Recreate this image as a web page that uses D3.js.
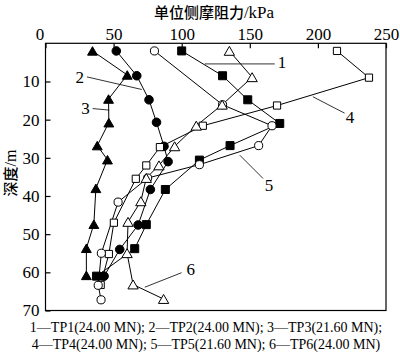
<!DOCTYPE html>
<html>
<head>
<meta charset="utf-8">
<script src="https://cdn.jsdelivr.net/npm/d3@7/dist/d3.min.js"></script>
<style>
body{margin:0;background:#fff}
svg{display:block}
</style>
</head>
<body>
<div id="chart"></div>
<script>
// side friction (kPa) against depth (m), six test piles
var tp1Friction = [100, 130, 148.5, 172, 135.5, 113, 88, 74, 65.5, 37.5];
var tp1Depth    = [2, 8.5, 14.8, 21, 26.8, 30.6, 38.3, 47.5, 53.8, 61];
var tp2Friction = [52, 67, 76, 81.5, 87, 90, 77, 68, 54.5, 43];
var tp2Depth    = [2, 8.5, 14.8, 20.7, 27, 31, 38.3, 47.6, 54, 61];
var tp3Friction = [34.5, 60, 46.3, 46.5, 38, 45.5, 37, 35.5, 30, 30];
var tp3Depth    = [2, 8.3, 14.6, 20.8, 26.8, 30.5, 38, 47.4, 53.7, 60.8];
var tp4Friction = [214, 237.5, 170, 115.5, 84, 74, 66.3, 50.2, 46.5, 40.5];
var tp4Depth    = [2, 9, 16.3, 21.6, 27.2, 32, 35.5, 47, 55.2, 63.3];
var tp5Friction = [80, 130, 166.3, 156.5, 113, 75, 53.3, 41, 38.7, 40.8];
var tp5Depth    = [2, 16.1, 21.6, 26.8, 31.8, 35.3, 41.6, 55, 63.4, 67.2];
var tp6Friction = [135, 151.7, 129.7, 110.7, 94.8, 83.3, 74, 70, 60.6, 59.9, 64.3, 86.7];
var tp6Depth    = [2, 8.9, 16.1, 21.6, 27, 32, 35.3, 41.4, 46.8, 55, 63.2, 67];

var seriesNames = ['TP1', 'TP2', 'TP3', 'TP4', 'TP5', 'TP6'];
var xTicks = [0, 50, 100, 150, 200, 250];
var yTicks = [10, 20, 30, 40, 50, 60, 70];
var legendLines = ['1\u2014TP1(24.00 MN); 2\u2014TP2(24.00 MN); 3\u2014TP3(21.60 MN);',
                   '4\u2014TP4(24.00 MN); 5\u2014TP5(21.60 MN); 6\u2014TP6(24.00 MN)'];

// curve labels: leader from [x1,d1] to [x2,d2], number placed at [tx,td]
var labelText  = ['1', '2', '3', '4', '5', '6'];
var leaderFrom = [[116.9, 5.4], [70.7, 12.1], [46.8, 17.5], [196.3, 14], [142.6, 29.3], [72.9, 63.9]];
var leaderTo   = [[168.3, 5.4], [30.4, 8.8], [34.6, 17.1], [219.6, 18.3], [159.7, 35.4], [99.9, 60.1]];
var labelAt    = [[170.5, 6.5], [28.2, 10.4], [32.5, 18.5], [220.5, 21], [161, 38.8], [103.5, 60.8]];
var labelAnchor = ['start', 'end', 'end', 'start', 'start', 'start'];

var W = 400, H = 363;
var svg = d3.select('#chart').append('svg').attr('width', W).attr('height', H);

var x = d3.scaleLinear().domain([0, 250]).range([45.5, 386]);
var y = d3.scaleLinear().domain([0, 70]).range([43.3, 310.5]);

var serif = '"Liberation Serif", "Times New Roman", serif';
var cjk = '"Noto Sans CJK SC", sans-serif';

// frame
svg.append('rect').attr('x', x(0)).attr('y', y(0)).attr('width', x(250) - x(0)).attr('height', y(70) - y(0))
  .attr('fill', 'none').attr('stroke', '#000').attr('stroke-width', 1.2);

var gx = svg.append('g').attr('transform', 'translate(0,' + y(0) + ')')
  .call(d3.axisTop(x).tickValues(xTicks).tickSize(-5).tickPadding(3));
gx.select('.domain').remove();
gx.selectAll('text').attr('font-family', serif).attr('font-size', 17).attr('fill', '#000')
  .attr('dx', function(d) { return d === 0 ? -6 : 0; });

var gy = svg.append('g').attr('transform', 'translate(' + x(0) + ',0)')
  .call(d3.axisLeft(y).tickValues(yTicks).tickSize(-5).tickPadding(6));
gy.select('.domain').remove();
gy.selectAll('text').attr('font-family', serif).attr('font-size', 17).attr('fill', '#000');
svg.selectAll('.tick line').attr('stroke', '#000').attr('stroke-width', 1.2);

// titles
var title = svg.append('text').attr('x', 214).attr('y', 18).attr('text-anchor', 'middle').attr('fill', '#000');
title.append('tspan').attr('font-family', cjk).attr('font-size', 15).attr('font-weight', 500).text('单位侧摩阻力');
title.append('tspan').attr('font-family', serif).attr('font-size', 17).text('/kPa');

var ytitle = svg.append('text').attr('transform', 'translate(16,173) rotate(-90)').attr('text-anchor', 'middle').attr('fill', '#000');
ytitle.append('tspan').attr('font-family', cjk).attr('font-size', 15).attr('font-weight', 500).text('深度');
ytitle.append('tspan').attr('font-family', serif).attr('font-size', 16).text('/m');

// series
var series = [
  {name: seriesNames[0], v: tp1Friction, d: tp1Depth, shape: d3.symbolSquare, size: 64, fill: '#000'},
  {name: seriesNames[1], v: tp2Friction, d: tp2Depth, shape: d3.symbolCircle, size: 58, fill: '#000'},
  {name: seriesNames[2], v: tp3Friction, d: tp3Depth, shape: d3.symbolTriangle, size: 42, fill: '#000'},
  {name: seriesNames[3], v: tp4Friction, d: tp4Depth, shape: d3.symbolSquare, size: 52, fill: '#fff'},
  {name: seriesNames[4], v: tp5Friction, d: tp5Depth, shape: d3.symbolCircle, size: 52, fill: '#fff'},
  {name: seriesNames[5], v: tp6Friction, d: tp6Depth, shape: d3.symbolTriangle, size: 46, fill: '#fff'}
];

var line = d3.line().x(function(p) { return x(p[0]); }).y(function(p) { return y(p[1]); });

series.forEach(function(s) {
  s.pts = s.v.map(function(v, i) { return [v, s.d[i]]; });
  svg.append('path').attr('d', line(s.pts)).attr('fill', 'none').attr('stroke', '#000').attr('stroke-width', 1);
});

// leaders and numbers
labelText.forEach(function(t, i) {
  svg.append('line')
    .attr('x1', x(leaderFrom[i][0])).attr('y1', y(leaderFrom[i][1]))
    .attr('x2', x(leaderTo[i][0])).attr('y2', y(leaderTo[i][1]))
    .attr('stroke', '#000').attr('stroke-width', 0.8);
  svg.append('text').attr('x', x(labelAt[i][0])).attr('y', y(labelAt[i][1]))
    .attr('text-anchor', labelAnchor[i]).attr('font-family', serif).attr('font-size', 17).text(t);
});

series.forEach(function(s) {
  var tri = s.shape === d3.symbolTriangle;
  svg.append('g').selectAll('path').data(s.pts).enter().append('path')
    .attr('d', d3.symbol().type(s.shape).size(s.size))
    .attr('transform', function(p) { return 'translate(' + x(p[0]) + ',' + (y(p[1]) + (tri ? 1.4 : 0)) + ')'; })
    .attr('fill', s.fill).attr('stroke', '#000').attr('stroke-width', 1);
});

// legend
svg.selectAll('.leg').data(legendLines).enter().append('text').attr('class', 'leg')
  .attr('x', 206).attr('y', function(d, i) { return 332 + i * 17; })
  .attr('text-anchor', 'middle').attr('font-family', serif).attr('font-size', 14).attr('fill', '#000')
  .text(function(d) { return d; });
</script>
</body>
</html>
